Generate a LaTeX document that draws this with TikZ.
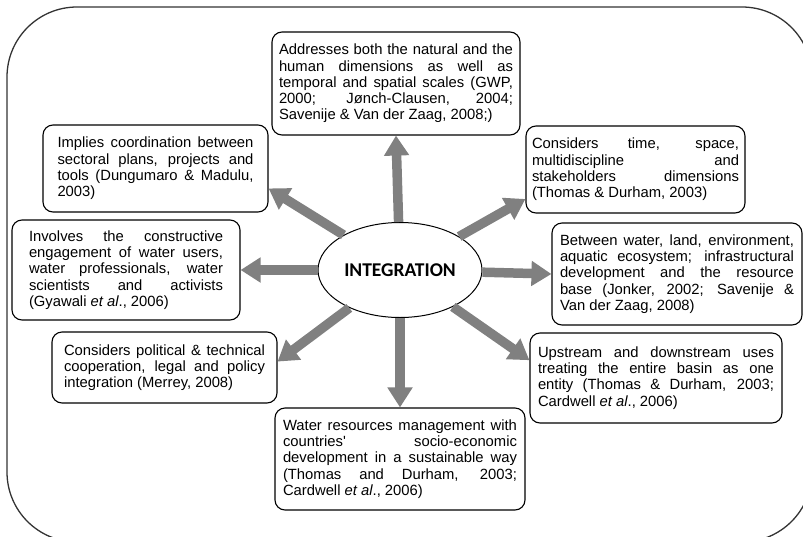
\documentclass[tikz,border=0pt]{standalone}
\usepackage{fontspec}
\setmainfont{Liberation Sans}
\newfontfamily\calibri{Carlito}
\usetikzlibrary{arrows.meta,shapes.geometric}
\definecolor{pijlgrijs}{RGB}{128,128,128}
\tolerance=10000
\hbadness=10000

\begin{document}
\begin{tikzpicture}[x=1pt,y=-1pt,
	textbox/.style={draw, line width=1.1pt, rounded corners=10pt, align=justify, inner ysep=4pt, font=\fontsize{14.8}{16.3}\selectfont},
	fatarrow/.style={draw=pijlgrijs, line width=9.5pt, -{Triangle[width=24pt,length=20pt]}}]
	% 画布大小,外框超出部分裁掉
	\useasboundingbox (0,0) rectangle (803,536);
	\clip (0,0) rectangle (803,536);
	\draw[line width=1.3pt, draw=black!80, rounded corners=70pt] (7,7) rectangle (812,542); % 外面的大圆角框
	
	% 中间的椭圆
	\node[ellipse, draw, line width=1pt, fill=white, minimum width=164pt, minimum height=95pt, inner sep=0pt, font=\calibri\bfseries\fontsize{19.5}{20}\selectfont] (integ) at (400,270) {INTEGRATION};
	
	% 周围八个文本框,从上方开始按顺时针
	\node[textbox, text width=234pt, inner xsep=7pt, minimum height=103pt] (top) at (396,83.5) {Addresses both the natural and the\linebreak human dimensions as well as\linebreak temporal and spatial scales (GWP,\linebreak 2000; Jønch-Clausen, 2004;\linebreak Savenije \& Van der Zaag, 2008;)};
	\node[textbox, text width=207pt, inner xsep=6pt, minimum height=87pt] (ur) at (635.5,169.5) {Considers time, space,\linebreak multidiscipline and\linebreak stakeholders dimensions\linebreak (Thomas \& Durham, 2003)};
	\node[textbox, text width=234pt, inner xsep=8pt, minimum height=102pt] (r) at (677,274) {Between water, land, environment,\linebreak aquatic ecosystem; infrastructural\linebreak development and the resource\linebreak base (Jonker, 2002; Savenije \&\linebreak Van der Zaag, 2008)};
	\node[textbox, text width=236pt, inner xsep=8pt, minimum height=90pt] (lr) at (656,378) {Upstream and downstream uses\linebreak treating the entire basin as one\linebreak entity (Thomas \& Durham, 2003;\linebreak Cardwell \textit{et al}., 2006)};
	\node[textbox, text width=234pt, inner xsep=8pt, minimum height=102pt] (bot) at (400,459) {Water resources management with\linebreak countries\textquotesingle{} socio-economic\linebreak development in a sustainable way\linebreak (Thomas and Durham, 2003;\linebreak Cardwell \textit{et al}., 2006)};
	\node[textbox, text width=201pt, inner xsep=12pt, minimum height=71pt] (ll) at (164.5,367.5) {Considers political \& technical\linebreak cooperation, legal and policy\linebreak integration (Merrey, 2008)};
	\node[textbox, text width=194pt, inner xsep=17pt, minimum height=100pt] (l) at (126,270) {Involves the constructive\linebreak engagement of water users,\linebreak water professionals, water\linebreak scientists and activists\linebreak (Gyawali \textit{et al}., 2006)};
	\node[textbox, text width=196pt, inner xsep=14.5pt, minimum height=87pt] (ul) at (155.5,168.5) {Implies coordination between\linebreak sectoral plans, projects and\linebreak tools (Dungumaro \& Madulu,\linebreak 2003)};
	
	% 灰色粗箭头,从椭圆指向各个文本框
	\draw[fatarrow] (integ) -- (top.south);
	\draw[fatarrow] (integ) -- (ur.195);
	\draw[fatarrow] (integ) -- (r.west);
	\draw[fatarrow] (integ) -- (lr.172);
	\draw[fatarrow] (integ) -- (bot.north);
	\draw[fatarrow] (integ) -- (ll.3);
	\draw[fatarrow] (integ) -- (l.east);
	\draw[fatarrow] (integ) -- (ul.-10);
\end{tikzpicture}
\end{document}
